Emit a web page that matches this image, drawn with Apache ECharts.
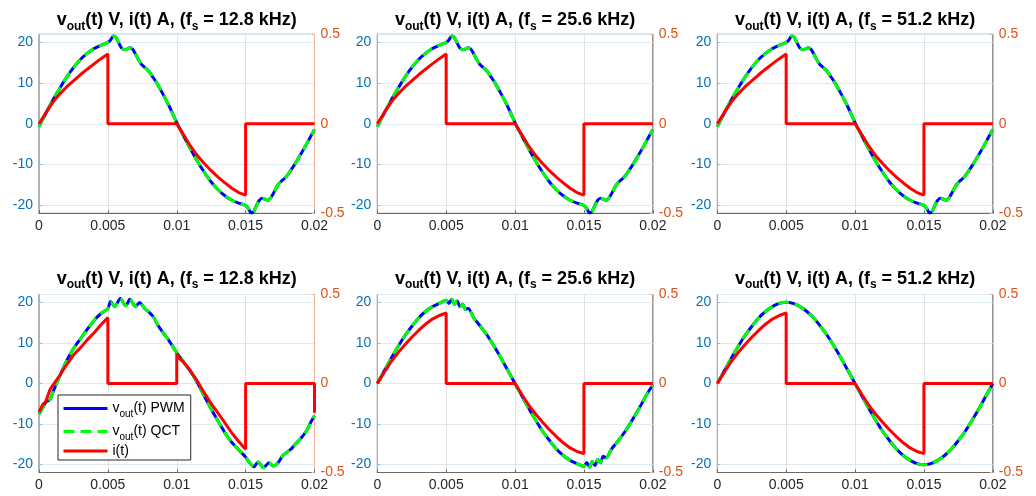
<!DOCTYPE html>
<html><head><meta charset="utf-8">
<script src="https://cdn.jsdelivr.net/npm/echarts@6/dist/echarts.min.js"></script>
<style>html,body{margin:0;padding:0;background:#fff}#c{width:1036px;height:496px}</style>
</head><body><div id="c"></div>
<script>
// ---------- data ----------
const freqs = ['12.8', '25.6', '51.2', '12.8', '25.6', '51.2'];
const xTickValues = [0, 0.005, 0.01, 0.015, 0.02];
const seriesNames = ['vout(t) PWM', 'vout(t) QCT', 'i(t)'];

// top row voltage (same waveform in all three top panels)
const tTop = [0,0.0005,0.001,0.0015,0.002,0.0025,0.003,0.0035,0.004,0.0045,0.0048,0.005,0.0052,0.0054,0.0056,0.0058,0.006,0.0062,0.0064,0.0066,0.0068,0.007,0.0072,0.0074,0.0076,0.0078,0.008,0.0082,0.0085,0.009,0.0095,0.01,0.0105,0.011,0.0115,0.012,0.0125,0.013,0.0135,0.014,0.0145,0.0148,0.015,0.0152,0.0154,0.0156,0.0158,0.016,0.0162,0.0164,0.0166,0.0168,0.017,0.0172,0.0174,0.0176,0.0178,0.018,0.0182,0.0185,0.019,0.0195,0.02];
const vTop = [-0.7,2.6,5.8,8.7,11.4,13.8,15.8,17.3,18.5,19.3,19.7,20.0,20.6,21.6,21.2,19.8,18.6,18.2,18.4,18.7,18.3,17.2,15.9,14.8,14.1,13.5,12.8,11.8,10.3,7.3,4.0,0.3,-3.0,-6.2,-9.2,-11.9,-14.3,-16.2,-17.7,-18.8,-19.5,-19.8,-20.1,-20.8,-21.9,-21.5,-20.0,-18.8,-18.3,-18.5,-18.8,-18.3,-17.2,-15.9,-14.8,-14.1,-13.5,-12.8,-11.8,-10.3,-7.5,-4.5,-1.4];

// current time base (steps at 0.005 and 0.015)
const tCur = [0,0.0005,0.001,0.0015,0.002,0.0025,0.003,0.0035,0.004,0.0045,0.005,0.005,0.01,0.0105,0.011,0.0115,0.012,0.0125,0.013,0.0135,0.014,0.0145,0.015,0.015,0.02];
const iTop = [0,0.062,0.12,0.166,0.206,0.24,0.274,0.305,0.335,0.364,0.39,0,0,-0.062,-0.125,-0.178,-0.222,-0.262,-0.298,-0.33,-0.36,-0.384,-0.398,0,0];
const iSmooth = [0,0.062,0.122,0.172,0.218,0.26,0.298,0.333,0.362,0.382,0.396,0,0,-0.062,-0.122,-0.172,-0.218,-0.26,-0.298,-0.333,-0.362,-0.382,-0.394,0,0];

// bottom-left (12.8 kHz)
const tBL = [0,0.0003,0.0005,0.0008,0.001,0.0015,0.002,0.0025,0.003,0.0035,0.004,0.0045,0.005,0.0052,0.0055,0.0059,0.0063,0.0066,0.007,0.0073,0.0077,0.008,0.0083,0.0086,0.009,0.0094,0.0097,0.01,0.0103,0.0105,0.011,0.0115,0.012,0.0125,0.013,0.0135,0.014,0.0145,0.015,0.0152,0.0156,0.0159,0.0163,0.0167,0.017,0.0174,0.0177,0.018,0.0183,0.0186,0.019,0.0194,0.0197,0.02];
const vBL = [-7.6,-5.8,-4.6,-4.0,-2.2,1.8,5.6,8.6,11.0,13.4,15.6,17.3,18.5,20.3,19.0,21.0,19.2,20.8,19.0,20.0,18.4,17.6,16.5,14.6,12.6,10.8,9.2,7.6,6.2,5.3,3.0,0.2,-3.1,-6.3,-9.3,-12.2,-14.6,-16.4,-18.2,-19.2,-20.6,-19.4,-20.8,-19.6,-20.4,-19.4,-17.8,-17.0,-16.2,-15.0,-13.6,-11.8,-9.8,-8.0];
const tBLi = [0,0.0003,0.0005,0.0008,0.001,0.0015,0.002,0.0025,0.003,0.0035,0.004,0.0045,0.005,0.005,0.01,0.01,0.0102,0.0105,0.011,0.0115,0.012,0.0125,0.013,0.0135,0.014,0.0145,0.015,0.015,0.02,0.02];
const iBL = [-0.16,-0.115,-0.1,-0.034,-0.01,0.045,0.105,0.16,0.2,0.245,0.285,0.33,0.37,0,0,0.168,0.14,0.12,0.07,0.013,-0.053,-0.113,-0.166,-0.222,-0.278,-0.326,-0.37,0,0,-0.165];

// bottom-middle (25.6 kHz)
const tBM = [0,0.0005,0.001,0.0015,0.002,0.0025,0.003,0.0035,0.004,0.0045,0.005,0.0052,0.0054,0.0056,0.0058,0.006,0.0062,0.0064,0.0066,0.007,0.0075,0.008,0.0085,0.009,0.0095,0.01,0.0105,0.011,0.0115,0.012,0.0125,0.013,0.0135,0.014,0.0145,0.015,0.0152,0.0154,0.0156,0.0158,0.016,0.0162,0.0164,0.0166,0.017,0.0175,0.018,0.0185,0.019,0.0195,0.02];
const vBM = [0,3.1,6.2,9.1,11.8,14.1,16.2,17.8,19.0,19.8,20.6,19.8,20.8,19.6,20.4,19.0,19.6,18.3,18.6,16.2,14.1,11.8,9.1,6.2,3.1,0,-3.1,-6.2,-9.1,-11.8,-14.1,-16.2,-17.8,-19.0,-19.8,-20.5,-19.5,-20.7,-19.3,-20.3,-18.8,-19.6,-18.0,-18.4,-16.2,-14.1,-11.8,-9.1,-6.2,-3.1,-0.3];

// bottom-right (51.2 kHz)
const tBR = [0,0.0005,0.001,0.0015,0.002,0.0025,0.003,0.0035,0.004,0.0045,0.005,0.0055,0.006,0.0065,0.007,0.0075,0.008,0.0085,0.009,0.0095,0.01,0.0105,0.011,0.0115,0.012,0.0125,0.013,0.0135,0.014,0.0145,0.015,0.0155,0.016,0.0165,0.017,0.0175,0.018,0.0185,0.019,0.0195,0.02];
const vBR = [0,3.1,6.2,9.1,11.8,14.1,16.2,17.8,19.0,19.8,20.1,19.8,19.0,17.8,16.2,14.1,11.8,9.1,6.2,3.1,0,-3.1,-6.2,-9.1,-11.8,-14.1,-16.2,-17.8,-19.0,-19.8,-20.1,-19.8,-19.0,-17.8,-16.2,-14.1,-11.8,-9.1,-6.2,-3.1,0];

const panels = [
  {vt: tTop, v: vTop, it: tCur, i: iTop},
  {vt: tTop, v: vTop, it: tCur, i: iTop},
  {vt: tTop, v: vTop, it: tCur, i: iTop},
  {vt: tBL, v: vBL, it: tBLi, i: iBL},
  {vt: tBM, v: vBM, it: tCur, i: iSmooth},
  {vt: tBR, v: vBR, it: tCur, i: iSmooth}
];

// ---------- layout / style ----------
const FONT = "'Liberation Sans', Arial, sans-serif";
const colLeft = [39, 377.3, 717.3];
const rowTop = [34.3, 294.5];
const W = 275.5, H = [179, 178];
const titleTop = [8.5, 267];

const zip = (a, b) => a.map((x, k) => [x, b[k]]);

const grids = [], xAxes = [], yAxes = [], series = [], titles = [];
panels.forEach((p, g) => {
  const r = Math.floor(g / 3), c = g % 3;
  grids.push({left: colLeft[c], top: rowTop[r], width: W, height: H[r], show: true,
    borderColor: '#6a6a6a', borderWidth: 1, backgroundColor: 'transparent'});
  titles.push({
    text: '{b|v}{s|out}{b|(t) V, i(t) A, (f}{s|s}{b| = ' + freqs[g] + ' kHz)}',
    left: colLeft[c] + W / 2, top: titleTop[r], textAlign: 'center', padding: 0,
    textStyle: {rich: {
      b: {fontFamily: FONT, fontSize: 18, fontWeight: 'bold', color: '#000', lineHeight: 24},
      s: {fontFamily: FONT, fontSize: 12, fontWeight: 'bold', color: '#000', lineHeight: 12, padding: [12, 0, 0, 0]}
    }}
  });
  xAxes.push({type: 'value', gridIndex: g, min: xTickValues[0], max: xTickValues[xTickValues.length - 1],
    interval: xTickValues[1] - xTickValues[0],
    axisLine: {onZero: false, lineStyle: {color: '#6a6a6a', width: 1}},
    axisTick: {show: true, inside: true, length: 3, lineStyle: {color: '#6a6a6a'}},
    axisLabel: {color: '#262626', fontSize: 14, fontFamily: FONT, margin: 6},
    splitLine: {show: true, lineStyle: {color: '#e2e2e2', width: 1}}
  });
  yAxes.push({type: 'value', gridIndex: g, position: 'left', min: -22, max: 22, splitNumber: 5,
    axisLine: {show: true, onZero: false, lineStyle: {color: '#8dbbe0', width: 1}},
    axisTick: {show: true, inside: true, length: 3, lineStyle: {color: '#8dbbe0'}},
    axisLabel: {color: '#0072BD', fontSize: 14, fontFamily: FONT, margin: 6, showMinLabel: false, showMaxLabel: false},
    splitLine: {show: true, lineStyle: {color: '#dce8f2', width: 1}}
  });
  yAxes.push({type: 'value', gridIndex: g, position: 'right', min: -0.5, max: 0.5, interval: 0.5,
    axisLine: {show: true, onZero: false, lineStyle: {color: '#efb49a', width: 1}},
    axisTick: {show: true, inside: true, length: 3, lineStyle: {color: '#efb49a'}},
    axisLabel: {color: '#D95319', fontSize: 14, fontFamily: FONT, margin: 6},
    splitLine: {show: false}
  });
  const vData = zip(p.vt, p.v);
  series.push({name: seriesNames[0], type: 'line', xAxisIndex: g, yAxisIndex: 2 * g, data: vData,
    symbol: 'none', smooth: 0.25, lineStyle: {color: '#0000FF', width: 3}, itemStyle: {color: '#0000FF'}, z: 2});
  series.push({name: seriesNames[1], type: 'line', xAxisIndex: g, yAxisIndex: 2 * g, data: vData,
    symbol: 'none', smooth: 0.25, lineStyle: {color: '#00FF00', width: 3, type: [11, 6]}, itemStyle: {color: '#00FF00'}, z: 3});
  series.push({name: seriesNames[2], type: 'line', xAxisIndex: g, yAxisIndex: 2 * g + 1, data: zip(p.it, p.i),
    symbol: 'none', lineStyle: {color: '#FF0000', width: 3}, itemStyle: {color: '#FF0000'}, z: 4});
});

const legendRich = {
  b: {fontFamily: FONT, fontSize: 14, color: '#000', lineHeight: 18},
  s: {fontFamily: FONT, fontSize: 10, color: '#000', lineHeight: 10, padding: [11, 0, 0, 0]}
};

const chart = echarts.init(document.getElementById('c'), null, {renderer: 'canvas'});
chart.setOption({
  animation: false,
  backgroundColor: '#fff',
  title: titles,
  grid: grids,
  xAxis: xAxes,
  yAxis: yAxes,
  legend: {
    data: seriesNames, orient: 'vertical', left: 58, top: 395,
    itemWidth: 44, itemHeight: 14, itemGap: 2, padding: [3, 6, 2, 4],
    borderColor: '#262626', borderWidth: 1, backgroundColor: '#fff',
    selectedMode: false,
    itemStyle: {opacity: 0},
    lineStyle: {width: 3},
    formatter: function (name) {
      if (name.indexOf('vout') === 0) return '{b|v}{s|out}{b|' + name.slice(4) + '}';
      return '{b|' + name + '}';
    },
    textStyle: {fontFamily: FONT, fontSize: 14, color: '#000', rich: legendRich}
  },
  series: series
});
</script></body></html>
